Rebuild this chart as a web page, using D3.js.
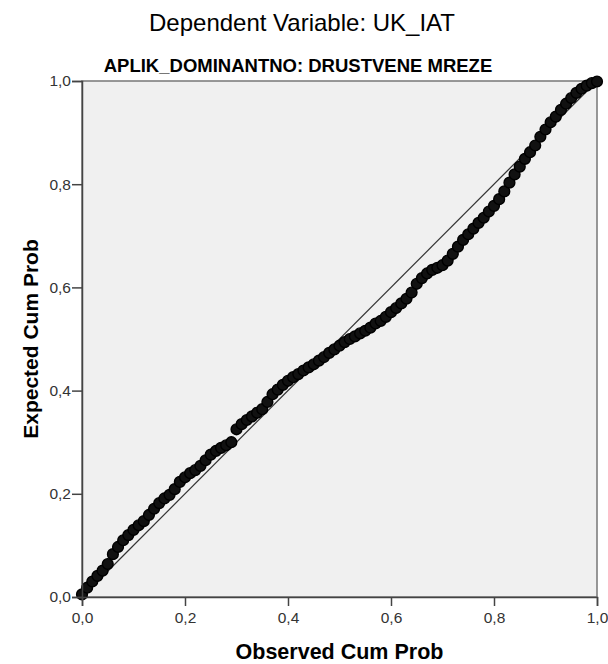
<!DOCTYPE html>
<html>
<head>
<meta charset="utf-8">
<script src="https://cdn.jsdelivr.net/npm/d3@7"></script>
<style>
  body { margin: 0; background: #fff; }
  text { font-family: 'Liberation Sans', Arial, sans-serif; }
</style>
</head>
<body>
<div id="container"></div>
<script>
// observed cumulative probability (x) and expected cumulative probability (y)
const observed = [
  0.00, 0.01, 0.02, 0.03, 0.04, 0.05, 0.06, 0.07, 0.08, 0.09,
  0.10, 0.11, 0.12, 0.13, 0.14, 0.15, 0.16, 0.17, 0.18, 0.19,
  0.20, 0.21, 0.22, 0.23, 0.24, 0.25, 0.26, 0.27, 0.28, 0.29,
  0.30, 0.31, 0.32, 0.33, 0.34, 0.35, 0.36, 0.37, 0.38, 0.39,
  0.40, 0.41, 0.42, 0.43, 0.44, 0.45, 0.46, 0.47, 0.48, 0.49,
  0.50, 0.51, 0.52, 0.53, 0.54, 0.55, 0.56, 0.57, 0.58, 0.59,
  0.60, 0.61, 0.62, 0.63, 0.64, 0.65, 0.66, 0.67, 0.68, 0.69,
  0.70, 0.71, 0.72, 0.73, 0.74, 0.75, 0.76, 0.77, 0.78, 0.79,
  0.80, 0.81, 0.82, 0.83, 0.84, 0.85, 0.86, 0.87, 0.88, 0.89,
  0.90, 0.91, 0.92, 0.93, 0.94, 0.95, 0.96, 0.97, 0.98, 0.99,
  1.00
]
const expected = [
  0.005, 0.018, 0.030, 0.041, 0.051, 0.064, 0.083, 0.097, 0.110, 0.120,
  0.130, 0.139, 0.147, 0.159, 0.171, 0.182, 0.191, 0.198, 0.209, 0.223,
  0.232, 0.240, 0.246, 0.254, 0.265, 0.276, 0.283, 0.289, 0.294, 0.300,
  0.325, 0.335, 0.343, 0.350, 0.357, 0.364, 0.378, 0.393, 0.402, 0.411,
  0.419, 0.426, 0.432, 0.439, 0.445, 0.451, 0.458, 0.465, 0.473, 0.480,
  0.487, 0.494, 0.500, 0.505, 0.511, 0.516, 0.522, 0.530, 0.535, 0.543,
  0.552, 0.560, 0.569, 0.578, 0.590, 0.607, 0.618, 0.627, 0.634, 0.638,
  0.643, 0.652, 0.665, 0.679, 0.692, 0.703, 0.714, 0.725, 0.735, 0.747,
  0.758, 0.771, 0.786, 0.803, 0.819, 0.834, 0.849, 0.862, 0.875, 0.892,
  0.906, 0.920, 0.931, 0.944, 0.956, 0.967, 0.977, 0.985, 0.991, 0.996,
  0.999
]
const tickValues = [0, 0.2, 0.4, 0.6, 0.8, 1.0]
const title = 'Dependent Variable: UK_IAT'
const subtitle = 'APLIK_DOMINANTNO: DRUSTVENE MREZE'

const w = 608
const h = 664
const plot = { left: 82, right: 597, top: 81, bottom: 597 }

const svg = d3.select('#container')
  .append('svg')
  .attr('width', w)
  .attr('height', h)

const xScale = d3.scaleLinear().domain([0, 1]).range([plot.left, plot.right])
const yScale = d3.scaleLinear().domain([0, 1]).range([plot.bottom, plot.top])

const fmt = d => d3.format('.1f')(d).replace('.', ',')

// plot background
svg.append('rect')
  .attr('x', plot.left)
  .attr('y', plot.top)
  .attr('width', plot.right - plot.left)
  .attr('height', plot.bottom - plot.top)
  .attr('fill', '#f0f0f0')
  .attr('stroke', '#777')
  .attr('stroke-width', 1.5)

// reference diagonal
svg.append('line')
  .attr('x1', xScale(0))
  .attr('y1', yScale(0))
  .attr('x2', xScale(1))
  .attr('y2', yScale(1))
  .attr('stroke', '#333')
  .attr('stroke-width', 1.2)

const points = observed.map((x, i) => ({ x: x, y: expected[i] }))

svg.selectAll('.dot')
  .data(points)
  .enter().append('circle')
  .attr('class', 'dot')
  .attr('cx', d => xScale(d.x))
  .attr('cy', d => yScale(d.y))
  .attr('r', 5.4)
  .attr('fill', '#111')
  .attr('stroke', '#000')
  .attr('stroke-width', 1.4)

const xAxis = d3.axisBottom(xScale)
  .tickValues(tickValues)
  .tickFormat(fmt)
  .tickSize(9)
  .tickPadding(6)

svg.append('g')
  .attr('transform', 'translate(0,' + plot.bottom + ')')
  .call(xAxis)
  .attr('id', 'x-axis')

const yAxis = d3.axisLeft(yScale)
  .tickValues(tickValues)
  .tickFormat(fmt)
  .tickSize(10)
  .tickPadding(1)

svg.append('g')
  .attr('transform', 'translate(' + plot.left + ',0)')
  .call(yAxis)
  .attr('id', 'y-axis')

svg.selectAll('#x-axis, #y-axis')
  .selectAll('text')
  .style('font-family', "'Liberation Sans', Arial, sans-serif")
  .style('font-size', '15.5px')
  .attr('fill', '#333')

svg.selectAll('#x-axis .domain, #y-axis .domain').attr('stroke', '#444').attr('stroke-width', 1.5)
svg.selectAll('#x-axis .tick line, #y-axis .tick line').attr('stroke', '#444').attr('stroke-width', 1.5)

svg.append('text')
  .attr('x', 302)
  .attr('y', 31)
  .attr('text-anchor', 'middle')
  .style('font-size', '24px')
  .text(title)

svg.append('text')
  .attr('x', 298)
  .attr('y', 72)
  .attr('text-anchor', 'middle')
  .style('font-weight', 'bold')
  .style('font-size', '18.5px')
  .text(subtitle)

svg.append('text')
  .attr('x', (plot.left + plot.right) / 2)
  .attr('y', 659)
  .attr('text-anchor', 'middle')
  .style('font-weight', 'bold')
  .style('font-size', '21.5px')
  .text('Observed Cum Prob')

svg.append('text')
  .attr('transform', 'rotate(-90)')
  .attr('x', -(plot.top + plot.bottom) / 2)
  .attr('y', 38)
  .attr('text-anchor', 'middle')
  .style('font-weight', 'bold')
  .style('font-size', '21px')
  .text('Expected Cum Prob')
</script>
</body>
</html>
